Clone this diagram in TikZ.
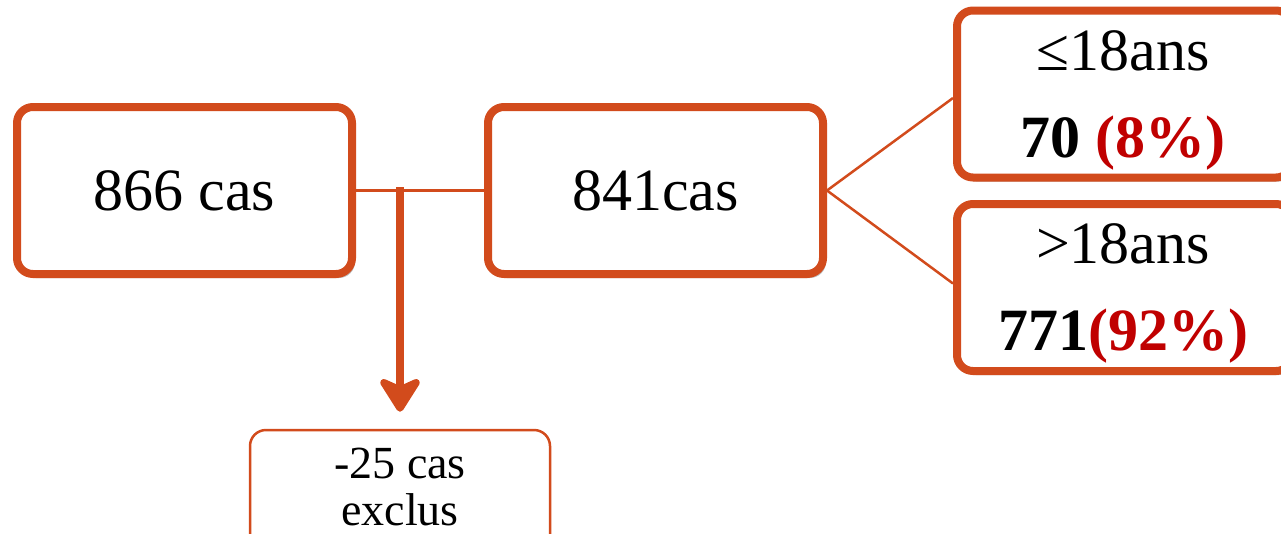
\documentclass[tikz,border=0pt]{standalone}
\usepackage{fontspec}
\setmainfont{Liberation Serif}
\usetikzlibrary{arrows.meta,shadows,calc}
\definecolor{ora}{HTML}{D24B1C}
\definecolor{redt}{HTML}{C00000}
\tikzset{
  bigbox/.style={draw=ora, line width=8pt, rounded corners=16pt, fill=white,
    minimum width=335pt, minimum height=167pt, inner sep=0pt,
    drop shadow={shadow xshift=3pt, shadow yshift=-4pt, opacity=0.25, fill=black},
    font=\fontsize{60}{72}\selectfont},
  smallbox/.style={draw=ora, line width=2.5pt, rounded corners=16pt, fill=white,
    minimum width=300pt, minimum height=120pt, inner sep=0pt},
  txt/.style={anchor=base, inner sep=0pt, font=\fontsize{60}{72}\selectfont},
  stxt/.style={anchor=base, inner sep=0pt, font=\fontsize{46}{50}\selectfont},
  thin/.style={draw=ora, line width=2.5pt},
  bigarrow/.style={draw=ora, line width=8pt, -{Stealth[length=40pt,width=50pt,inset=11pt,round]}}
}
\begin{document}
\begin{tikzpicture}[x=1pt,y=-1pt]
\useasboundingbox (0,0) rectangle (1281,533);
% boxes
\node[bigbox] (b1) at (184.5,190.5) {866 cas};
\node[bigbox] (b2) at (655.5,190.5) {841cas};
\node[bigbox] (b3) at (1124.5,94) {};
\node[bigbox] (b4) at (1124.5,287.5) {};
\node[smallbox] (b5) at (400,490) {};
% texts
\node[txt] (t3a) at (1123,70) {≤18ans};
\node[txt] (t3b) at (1123,157) {\bfseries 70 \textcolor{redt}{(8\%)}};
\node[txt] (t4a) at (1123,263) {>18ans};
\node[txt] (t4b) at (1123,350) {\bfseries 771\textcolor{redt}{(92\%)}};
\node[stxt] (t5a) at (400,478) {-25 cas};
\node[stxt] (t5b) at (400,525) {exclus};
% connectors
\draw[thin] (b1.east) -- (b2.west);
\coordinate (j) at (400,187);
\draw[bigarrow] (j) -- ([yshift=17pt]b5.north);
\draw[thin] (b2.east) -- ([yshift=-4pt]b3.west);
\draw[thin] (b2.east) -- ([yshift=4pt]b4.west);
\end{tikzpicture}
\end{document}
